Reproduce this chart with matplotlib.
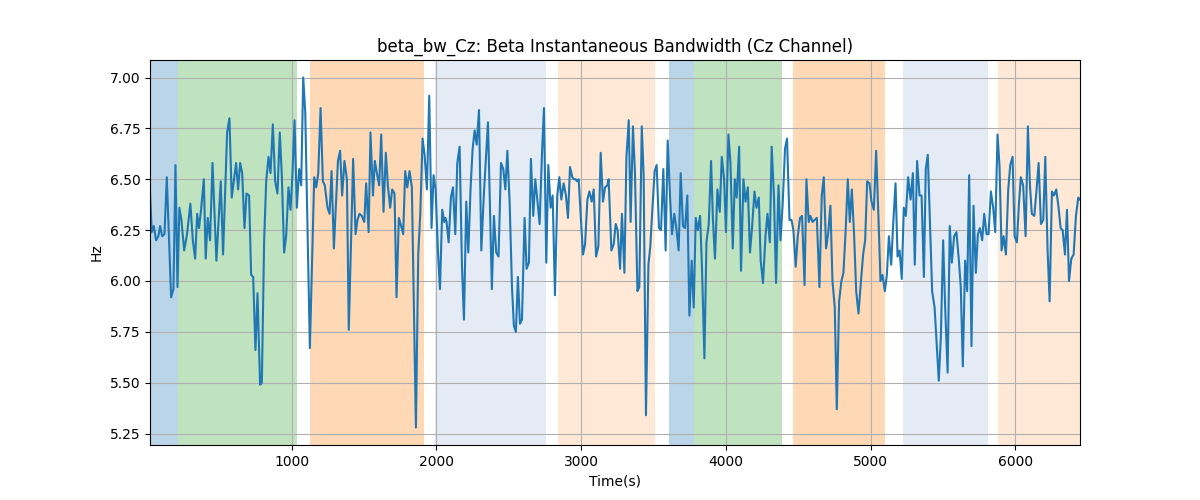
import matplotlib
matplotlib.use("Agg")
import matplotlib.pyplot as plt

# beta bandwidth trace
time_s = [
    20, 32, 46, 62, 78, 90, 104, 120, 136, 166, 182, 196, 210, 223, 237, 256,
    276, 299, 316, 332, 346, 359, 373, 392, 405, 419, 435, 452, 479, 509, 525,
    553, 569, 585, 599, 615, 629, 643, 657, 673, 687, 705, 719, 733, 749, 763,
    781, 793, 809, 823, 839, 853, 869, 885, 901, 917, 931, 947, 961, 977, 991,
    1005, 1019, 1035, 1051, 1065, 1079, 1093, 1125, 1155, 1169, 1183, 1199,
    1215, 1228, 1247, 1261, 1275, 1291, 1319, 1334, 1348, 1364, 1381, 1394,
    1424, 1441, 1454, 1468, 1484, 1501, 1514, 1531, 1544, 1561, 1574, 1588,
    1604, 1618, 1634, 1650, 1664, 1680, 1694, 1710, 1724, 1740, 1756, 1770,
    1784, 1798, 1814, 1830, 1858, 1874, 1888, 1904, 1918, 1934, 1950, 1966,
    1980, 1994, 2010, 2024, 2040, 2054, 2062, 2070, 2084, 2100, 2114, 2130,
    2144, 2160, 2176, 2190, 2206, 2220, 2236, 2250, 2264, 2278, 2294, 2310,
    2328, 2356, 2383, 2397, 2413, 2429, 2446, 2462, 2476, 2490, 2506, 2522,
    2535, 2549, 2563, 2577, 2591, 2609, 2623, 2639, 2653, 2669, 2683, 2697,
    2713, 2729, 2743, 2759, 2773, 2789, 2803, 2819, 2835, 2849, 2863, 2879,
    2895, 2909, 2923, 2939, 2950, 2962, 2971, 2983, 2997, 3013, 3027, 3043,
    3057, 3073, 3087, 3103, 3119, 3135, 3151, 3165, 3181, 3190, 3209, 3225,
    3239, 3252, 3269, 3282, 3299, 3313, 3329, 3342, 3358, 3372, 3389, 3402,
    3419, 3432, 3448, 3465, 3478, 3492, 3508, 3522, 3538, 3552, 3568, 3584,
    3598, 3614, 3628, 3644, 3658, 3674, 3688, 3704, 3718, 3734, 3748, 3764,
    3778, 3792, 3806, 3822, 3835, 3852, 3866, 3882, 3898, 3911, 3925, 3942,
    3958, 3972, 3988, 4001, 4018, 4032, 4048, 4062, 4075, 4092, 4105, 4122,
    4136, 4152, 4167, 4181, 4198, 4212, 4228, 4241, 4257, 4274, 4288, 4304,
    4317, 4333, 4347, 4364, 4378, 4393, 4409, 4423, 4440, 4454, 4467, 4483,
    4497, 4513, 4527, 4544, 4557, 4573, 4585, 4599, 4613, 4629, 4647, 4663,
    4677, 4693, 4707, 4723, 4737, 4753, 4767, 4783, 4799, 4813, 4829, 4843,
    4857, 4871, 4887, 4901, 4917, 4933, 4949, 4963, 4977, 4993, 5007, 5023,
    5039, 5055, 5069, 5083, 5099, 5113, 5127, 5143, 5156, 5173, 5187, 5201,
    5216, 5230, 5244, 5260, 5277, 5293, 5306, 5322, 5339, 5353, 5369, 5382,
    5396, 5426, 5443, 5472, 5486, 5502, 5516, 5533, 5548, 5562, 5578, 5594,
    5611, 5624, 5638, 5654, 5668, 5682, 5698, 5712, 5728, 5742, 5756, 5772,
    5786, 5802, 5816, 5832, 5848, 5862, 5878, 5892, 5906, 5920, 5936, 5952,
    5966, 5982, 5996, 6012, 6026, 6039, 6055, 6072, 6088, 6102, 6115, 6132,
    6148, 6162, 6178, 6194, 6208, 6224, 6238, 6254, 6268, 6284, 6300, 6314,
    6328, 6344, 6358, 6372, 6388, 6404, 6420, 6436, 6448,
]
beta_bw = [
    6.44, 6.24, 6.27, 6.20, 6.22, 6.27, 6.22, 6.23, 6.51, 5.92, 5.96, 6.57,
    5.97, 6.36, 6.30, 6.15, 6.23, 6.38, 6.20, 6.11, 6.33, 6.26, 6.35, 6.50,
    6.11, 6.31, 6.20, 6.58, 6.10, 6.49, 6.13, 6.73, 6.80, 6.41, 6.49, 6.58,
    6.45, 6.58, 6.53, 6.26, 6.43, 6.42, 6.03, 6.02, 5.66, 5.94, 5.49, 5.50,
    6.20, 6.49, 6.61, 6.53, 6.77, 6.49, 6.43, 6.73, 6.52, 6.14, 6.22, 6.46,
    6.35, 6.53, 6.79, 6.36, 6.55, 6.47, 7.00, 6.83, 5.67, 6.51, 6.46, 6.53,
    6.85, 6.49, 6.47, 6.36, 6.33, 6.54, 6.16, 6.59, 6.64, 6.42, 6.59, 6.50,
    5.76, 6.60, 6.23, 6.30, 6.33, 6.32, 6.29, 6.48, 6.24, 6.73, 6.42, 6.59,
    6.53, 6.47, 6.72, 6.34, 6.63, 6.47, 6.36, 6.45, 6.43, 5.92, 6.31, 6.27,
    6.23, 6.54, 6.46, 6.54, 6.46, 5.28, 6.13, 6.33, 6.70, 6.62, 6.45, 6.91,
    6.26, 6.52, 6.45, 6.15, 5.96, 6.35, 6.29, 6.31, 6.29, 6.19, 6.41, 6.46,
    6.23, 6.58, 6.66, 6.08, 5.81, 6.39, 6.14, 6.46, 6.65, 6.74, 6.67, 6.84,
    6.15, 6.43, 6.78, 5.96, 6.32, 6.14, 6.12, 6.58, 6.55, 6.45, 6.64, 6.38,
    5.97, 5.78, 5.75, 6.02, 5.79, 5.81, 6.31, 6.06, 6.09, 6.60, 6.32, 6.50,
    6.40, 6.28, 6.62, 6.85, 6.09, 6.57, 6.36, 6.42, 5.93, 6.42, 6.51, 6.40,
    6.48, 6.42, 6.31, 6.56, 6.51, 6.50, 6.50, 6.49, 6.50, 6.32, 6.13, 6.18,
    6.40, 6.44, 6.39, 6.45, 6.12, 6.17, 6.63, 6.39, 6.46, 6.47, 6.50, 6.15,
    6.18, 6.28, 6.25, 6.06, 6.33, 6.04, 6.61, 6.79, 6.29, 6.76, 6.53, 5.95,
    5.97, 6.76, 6.52, 5.34, 6.08, 6.17, 6.35, 6.54, 6.57, 6.26, 6.25, 6.55,
    6.15, 6.69, 6.42, 6.23, 6.33, 6.26, 6.15, 6.53, 6.27, 6.26, 6.42, 5.83,
    6.10, 5.87, 6.31, 6.25, 6.32, 6.07, 5.62, 6.19, 6.28, 6.59, 6.30, 6.11,
    6.45, 6.34, 6.61, 6.50, 6.24, 6.72, 6.58, 6.16, 6.50, 6.41, 6.66, 6.05,
    6.50, 6.39, 6.46, 6.14, 6.26, 6.44, 6.36, 6.41, 6.10, 5.99, 6.22, 6.33,
    6.19, 6.66, 6.41, 5.99, 6.47, 6.20, 6.38, 6.65, 6.70, 6.30, 6.30, 6.25,
    6.07, 6.22, 6.31, 6.32, 5.98, 6.50, 6.29, 6.32, 6.29, 6.30, 6.31, 5.97,
    6.42, 6.51, 6.16, 6.23, 6.37, 6.00, 5.87, 5.37, 5.90, 6.00, 6.04, 6.26,
    6.50, 6.29, 6.45, 6.22, 5.95, 5.84, 5.99, 6.13, 6.20, 6.49, 6.48, 6.39,
    6.35, 6.64, 6.31, 6.00, 6.03, 5.95, 6.03, 6.22, 6.08, 6.27, 6.48, 6.12,
    6.15, 6.01, 6.36, 6.32, 6.51, 6.40, 6.53, 6.08, 6.59, 6.42, 6.42, 6.02,
    6.55, 6.62, 5.95, 5.87, 5.51, 5.72, 6.20, 5.87, 5.55, 6.27, 6.09, 6.22,
    6.24, 6.10, 5.97, 5.58, 6.10, 5.95, 6.52, 5.68, 6.37, 6.04, 6.23, 6.26,
    6.20, 6.33, 6.23, 6.23, 6.44, 6.36, 6.24, 6.72, 6.56, 6.15, 6.22, 6.13,
    6.45, 6.57, 6.61, 6.22, 6.19, 6.38, 6.51, 6.47, 6.22, 6.76, 6.47, 6.33,
    6.32, 6.45, 6.58, 6.28, 6.30, 6.61, 6.15, 5.90, 6.44, 6.42, 6.45, 6.36,
    6.26, 6.25, 6.13, 6.35, 6.00, 6.11, 6.13, 6.32, 6.41, 6.40,
]

# shaded segments (start, end, kind)
seg_start = [20, 214, 1129, 1990, 2840, 3605, 3778, 4463, 5223, 5880]
seg_end = [214, 1037, 1911, 2759, 3508, 3778, 4386, 5097, 5809, 6448]
seg_kind = ["a", "b", "c", "d", "e", "a", "b", "c", "d", "e"]

span_style = {
    "a": ("tab:blue", 0.3),
    "b": ("tab:green", 0.3),
    "c": ("tab:orange", 0.3),
    "d": ("lightsteelblue", 0.33),
    "e": ("tab:orange", 0.17),
}

fig, ax = plt.subplots(figsize=(12, 5))

for s, e, k in zip(seg_start, seg_end, seg_kind):
    color, alpha = span_style[k]
    ax.axvspan(s, e, color=color, alpha=alpha, linewidth=0)

ax.plot(time_s, beta_bw, color="tab:blue")
ax.set_xlim(time_s[0], time_s[-1])
ax.set_title("beta_bw_Cz: Beta Instantaneous Bandwidth (Cz Channel)")
ax.set_xlabel("Time(s)")
ax.set_ylabel("Hz")
ax.grid(True)

plt.savefig("out.png", dpi=100)
plt.close()
